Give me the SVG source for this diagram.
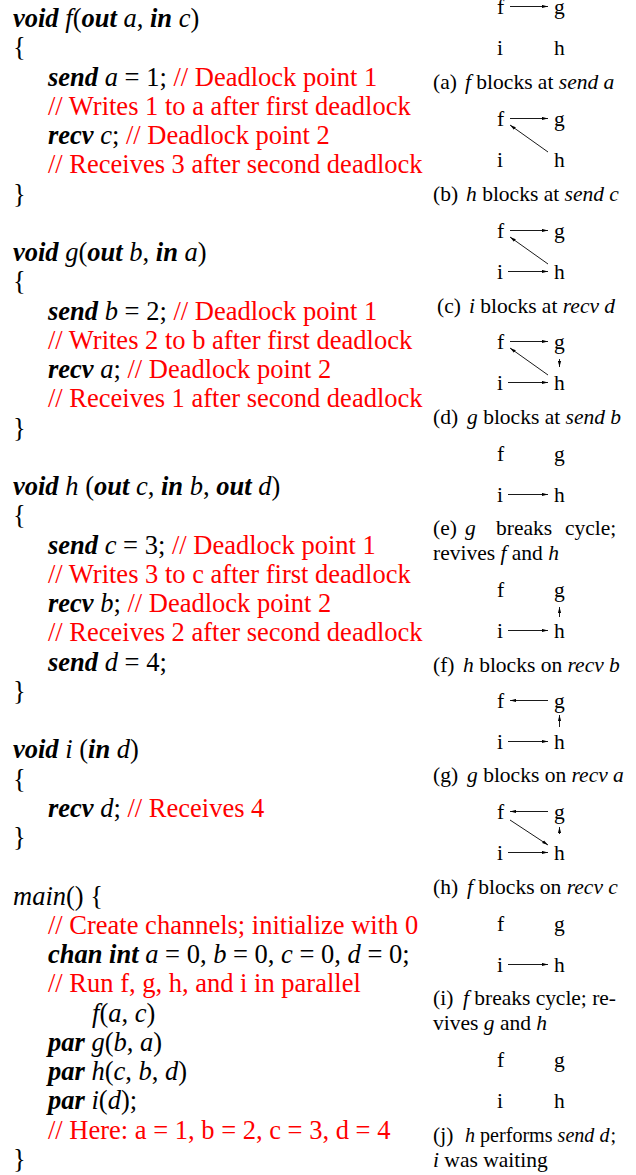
<svg xmlns="http://www.w3.org/2000/svg" width="636" height="1175" viewBox="0 0 636 1175">
<style>
text { font-family: "Liberation Serif", "Times New Roman", serif; fill: #000; }
.code { font-size: 26.5px; }
.kw { font-weight: bold; font-style: italic; }
.it { font-style: italic; }
.cm { fill: #ff0000; }
.node { font-size: 21.5px; }
.cap { font-size: 21.5px; }
.edge { stroke: #000; stroke-width: 0.9; fill: none; marker-end: url(#ah); }
</style>
<defs>
<marker id="ah" viewBox="0 0 6 4" refX="6" refY="2" markerWidth="6" markerHeight="4" orient="auto" markerUnits="userSpaceOnUse">
<path d="M0,0.4 L6,2 L0,3.6 z" fill="#000"/>
</marker>
</defs>
<rect width="636" height="1175" fill="#fff"/>

<g id="code" class="code">
<text x="13" y="27"><tspan class="kw">void</tspan> <tspan class="it">f</tspan>(<tspan class="kw">out</tspan> <tspan class="it">a</tspan>, <tspan class="kw">in</tspan> <tspan class="it">c</tspan>)</text>
<text x="13" y="56.25">{</text>
<text x="48" y="85.5"><tspan class="kw">send</tspan> <tspan class="it">a</tspan> = 1; <tspan class="cm">// Deadlock point 1</tspan></text>
<text x="48" y="114.75" class="cm">// Writes 1 to a after first deadlock</text>
<text x="48" y="144"><tspan class="kw">recv</tspan> <tspan class="it">c</tspan>; <tspan class="cm">// Deadlock point 2</tspan></text>
<text x="48" y="173.25" class="cm">// Receives 3 after second deadlock</text>
<text x="13" y="202.5">}</text>

<text x="13" y="261"><tspan class="kw">void</tspan> <tspan class="it">g</tspan>(<tspan class="kw">out</tspan> <tspan class="it">b</tspan>, <tspan class="kw">in</tspan> <tspan class="it">a</tspan>)</text>
<text x="13" y="290.25">{</text>
<text x="48" y="319.5"><tspan class="kw">send</tspan> <tspan class="it">b</tspan> = 2; <tspan class="cm">// Deadlock point 1</tspan></text>
<text x="48" y="348.75" class="cm">// Writes 2 to b after first deadlock</text>
<text x="48" y="378"><tspan class="kw">recv</tspan> <tspan class="it">a</tspan>; <tspan class="cm">// Deadlock point 2</tspan></text>
<text x="48" y="407.25" class="cm">// Receives 1 after second deadlock</text>
<text x="13" y="436.5">}</text>

<text x="13" y="495"><tspan class="kw">void</tspan> <tspan class="it">h</tspan> (<tspan class="kw">out</tspan> <tspan class="it">c</tspan>, <tspan class="kw">in</tspan> <tspan class="it">b</tspan>, <tspan class="kw">out</tspan> <tspan class="it">d</tspan>)</text>
<text x="13" y="524.25">{</text>
<text x="48" y="553.5"><tspan class="kw">send</tspan> <tspan class="it">c</tspan> = 3; <tspan class="cm">// Deadlock point 1</tspan></text>
<text x="48" y="582.75" class="cm">// Writes 3 to c after first deadlock</text>
<text x="48" y="612"><tspan class="kw">recv</tspan> <tspan class="it">b</tspan>; <tspan class="cm">// Deadlock point 2</tspan></text>
<text x="48" y="641.25" class="cm">// Receives 2 after second deadlock</text>
<text x="48" y="670.5"><tspan class="kw">send</tspan> <tspan class="it">d</tspan> = 4;</text>
<text x="13" y="699.75">}</text>

<text x="13" y="758.25"><tspan class="kw">void</tspan> <tspan class="it">i</tspan> (<tspan class="kw">in</tspan> <tspan class="it">d</tspan>)</text>
<text x="13" y="787.5">{</text>
<text x="48" y="816.75"><tspan class="kw">recv</tspan> <tspan class="it">d</tspan>; <tspan class="cm">// Receives 4</tspan></text>
<text x="13" y="846">}</text>

<text x="13" y="904.5"><tspan class="it">main</tspan>() {</text>
<text x="48" y="933.75" class="cm">// Create channels; initialize with 0</text>
<text x="48" y="963"><tspan class="kw">chan int</tspan> <tspan class="it">a</tspan> = 0, <tspan class="it">b</tspan> = 0, <tspan class="it">c</tspan> = 0, <tspan class="it">d</tspan> = 0;</text>
<text x="48" y="992.25" class="cm">// Run f, g, h, and i in parallel</text>
<text x="92" y="1021.5"><tspan class="it">f</tspan>(<tspan class="it">a</tspan>, <tspan class="it">c</tspan>)</text>
<text x="48" y="1050.75"><tspan class="kw">par</tspan> <tspan class="it">g</tspan>(<tspan class="it">b</tspan>, <tspan class="it">a</tspan>)</text>
<text x="48" y="1080"><tspan class="kw">par</tspan> <tspan class="it">h</tspan>(<tspan class="it">c</tspan>, <tspan class="it">b</tspan>, <tspan class="it">d</tspan>)</text>
<text x="48" y="1109.25"><tspan class="kw">par</tspan> <tspan class="it">i</tspan>(<tspan class="it">d</tspan>);</text>
<text x="48" y="1138.5" class="cm">// Here: a = 1, b = 2, c = 3, d = 4</text>
<text x="13" y="1167.75">}</text>
</g>

<g id="panels">
<g id="panel-a" class="node">
<g id="a-f"><text x="497" y="14">f</text></g>
<g id="a-g"><text x="554" y="14">g</text></g>
<g id="a-i"><text x="497" y="55">i</text></g>
<g id="a-h"><text x="554" y="55">h</text></g>
<text class="cap" x="433" y="89">(a)</text>
<text class="cap" x="465" y="89"><tspan class="it">f</tspan> blocks at <tspan class="it">send a</tspan></text>
</g>
<g id="panel-b" class="node">
<g id="b-f"><text x="497" y="126">f</text></g>
<g id="b-g"><text x="554" y="126">g</text></g>
<g id="b-i"><text x="497" y="167">i</text></g>
<g id="b-h"><text x="554" y="167">h</text></g>
<text class="cap" x="433" y="201">(b)</text>
<text class="cap" x="466" y="201"><tspan class="it">h</tspan> blocks at <tspan class="it">send c</tspan></text>
</g>
<g id="panel-c" class="node">
<g id="c-f"><text x="497" y="238">f</text></g>
<g id="c-g"><text x="554" y="238">g</text></g>
<g id="c-i"><text x="497" y="279">i</text></g>
<g id="c-h"><text x="554" y="279">h</text></g>
<text class="cap" x="437" y="313">(c)</text>
<text class="cap" x="469" y="313"><tspan class="it">i</tspan> blocks at <tspan class="it">recv d</tspan></text>
</g>
<g id="panel-d" class="node">
<g id="d-f"><text x="497" y="349">f</text></g>
<g id="d-g"><text x="554" y="349">g</text></g>
<g id="d-i"><text x="497" y="390">i</text></g>
<g id="d-h"><text x="554" y="390">h</text></g>
<text class="cap" x="433" y="424">(d)</text>
<text class="cap" x="467" y="424"><tspan class="it">g</tspan> blocks at <tspan class="it">send b</tspan></text>
</g>
<g id="panel-e" class="node">
<g id="e-f"><text x="497" y="461">f</text></g>
<g id="e-g"><text x="554" y="461">g</text></g>
<g id="e-i"><text x="497" y="502">i</text></g>
<g id="e-h"><text x="554" y="502">h</text></g>
<text class="cap" y="535"><tspan x="433">(e)</tspan><tspan x="465" class="it">g</tspan><tspan x="496">breaks</tspan><tspan x="565">cycle;</tspan></text>
<text class="cap" x="433" y="560">revives <tspan class="it">f</tspan> and <tspan class="it">h</tspan></text>
</g>
<g id="panel-f" class="node">
<g id="f-f"><text x="497" y="597">f</text></g>
<g id="f-g"><text x="554" y="597">g</text></g>
<g id="f-i"><text x="497" y="638">i</text></g>
<g id="f-h"><text x="554" y="638">h</text></g>
<text class="cap" x="433" y="672">(f)</text>
<text class="cap" x="463" y="672"><tspan class="it">h</tspan> blocks on <tspan class="it">recv b</tspan></text>
</g>
<g id="panel-g" class="node">
<g id="g-f"><text x="497" y="708">f</text></g>
<g id="g-g"><text x="554" y="708">g</text></g>
<g id="g-i"><text x="497" y="749">i</text></g>
<g id="g-h"><text x="554" y="749">h</text></g>
<text class="cap" x="433" y="782">(g)</text>
<text class="cap" x="467" y="782"><tspan class="it">g</tspan> blocks on <tspan class="it">recv a</tspan></text>
</g>
<g id="panel-h" class="node">
<g id="h-f"><text x="497" y="819">f</text></g>
<g id="h-g"><text x="554" y="819">g</text></g>
<g id="h-i"><text x="497" y="860">i</text></g>
<g id="h-h"><text x="554" y="860">h</text></g>
<text class="cap" x="433" y="894">(h)</text>
<text class="cap" x="467" y="894"><tspan class="it">f</tspan> blocks on <tspan class="it">recv c</tspan></text>
</g>
<g id="panel-i" class="node">
<g id="i-f"><text x="497" y="931">f</text></g>
<g id="i-g"><text x="554" y="931">g</text></g>
<g id="i-i"><text x="497" y="972">i</text></g>
<g id="i-h"><text x="554" y="972">h</text></g>
<text class="cap" x="433" y="1005">(i)</text>
<text class="cap" x="463" y="1005" textLength="153" lengthAdjust="spacing"><tspan class="it">f</tspan> breaks cycle; re-</text>
<text class="cap" x="433" y="1030">vives <tspan class="it">g</tspan> and <tspan class="it">h</tspan></text>
</g>
<g id="panel-j" class="node">
<g id="j-f"><text x="497" y="1067">f</text></g>
<g id="j-g"><text x="554" y="1067">g</text></g>
<g id="j-i"><text x="497" y="1108">i</text></g>
<g id="j-h"><text x="554" y="1108">h</text></g>
<text class="cap" x="433" y="1142">(j)</text>
<text class="cap" x="465" y="1142" textLength="151" lengthAdjust="spacingAndGlyphs"><tspan class="it">h</tspan> performs <tspan class="it">send d</tspan><tspan dx="1">;</tspan></text>
<text class="cap" x="433" y="1167"><tspan class="it">i</tspan> was waiting</text>
</g>
</g>

<g id="connectors">
<line class="edge" x1="510" y1="6.5" x2="548" y2="6.5"/>
<line class="edge" x1="510" y1="118.5" x2="548" y2="118.5"/>
<line class="edge" x1="548" y1="152" x2="510" y2="125"/>
<line class="edge" x1="510" y1="230.5" x2="548" y2="230.5"/>
<line class="edge" x1="548" y1="264" x2="510" y2="237"/>
<line class="edge" x1="508" y1="271.5" x2="548" y2="271.5"/>
<line class="edge" x1="510" y1="341.5" x2="548" y2="341.5"/>
<line class="edge" x1="548" y1="375" x2="510" y2="348"/>
<line class="edge" x1="508" y1="382.5" x2="548" y2="382.5"/>
<line class="edge" x1="559.5" y1="359" x2="559.5" y2="367"/>
<line class="edge" x1="508" y1="494.5" x2="548" y2="494.5"/>
<line class="edge" x1="508" y1="630.5" x2="548" y2="630.5"/>
<line class="edge" x1="559.5" y1="617" x2="559.5" y2="607"/>
<line class="edge" x1="548" y1="700.5" x2="510" y2="700.5"/>
<line class="edge" x1="508" y1="741.5" x2="548" y2="741.5"/>
<line class="edge" x1="559.5" y1="727" x2="559.5" y2="715"/>
<line class="edge" x1="548" y1="811.5" x2="510" y2="811.5"/>
<line class="edge" x1="510" y1="820" x2="548" y2="845"/>
<line class="edge" x1="508" y1="852.5" x2="548" y2="852.5"/>
<line class="edge" x1="559.5" y1="834" x2="559.5" y2="827"/>
<line class="edge" x1="508" y1="964.5" x2="548" y2="964.5"/>
</g>
</svg>
